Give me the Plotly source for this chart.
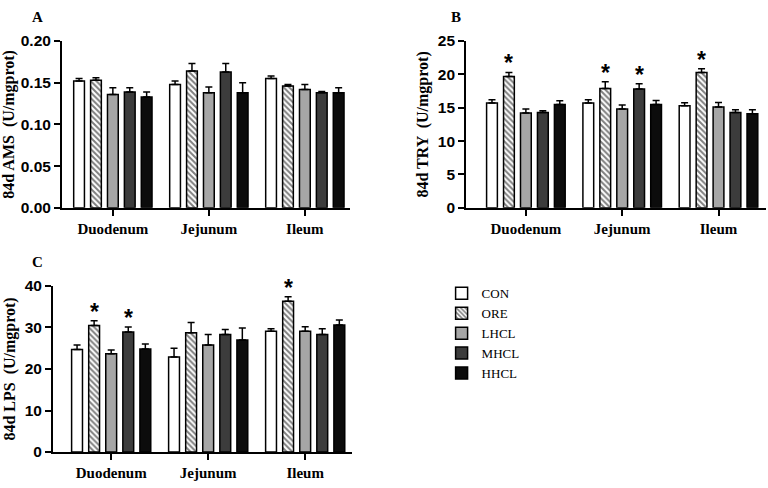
import plotly.graph_objects as go

categories = ["Duodenum", "Jejunum", "Ileum"]
groups = ["CON", "ORE", "LHCL", "MHCL", "HHCL"]

# AMS (U/mgprot), rows = groups, cols = categories
ams_mean = [[0.152, 0.148, 0.155],
            [0.153, 0.164, 0.146],
            [0.136, 0.138, 0.142],
            [0.139, 0.163, 0.138],
            [0.133, 0.138, 0.138]]
ams_err = [[0.003, 0.004, 0.003],
           [0.003, 0.009, 0.002],
           [0.008, 0.007, 0.006],
           [0.005, 0.010, 0.0015],
           [0.006, 0.012, 0.006]]
ams_sig = [[0, 0, 0], [0, 0, 0], [0, 0, 0], [0, 0, 0], [0, 0, 0]]

# TRY
try_mean = [[15.7, 15.7, 15.3],
            [19.7, 17.9, 20.3],
            [14.2, 14.8, 15.1],
            [14.3, 17.8, 14.3],
            [15.5, 15.5, 14.1]]
try_err = [[0.5, 0.5, 0.45],
           [0.6, 1.0, 0.55],
           [0.6, 0.6, 0.7],
           [0.25, 0.8, 0.4],
           [0.55, 0.6, 0.6]]
try_sig = [[0, 0, 0], [1, 1, 1], [0, 0, 0], [0, 1, 0], [0, 0, 0]]

# LPS
lps_mean = [[24.7, 22.9, 29.1],
            [30.5, 28.7, 36.3],
            [23.7, 25.8, 29.1],
            [28.9, 28.3, 28.3],
            [24.8, 27.0, 30.6]]
lps_err = [[1.1, 2.1, 0.6],
           [1.1, 2.5, 1.1],
           [0.9, 2.5, 1.1],
           [1.2, 1.2, 1.4],
           [1.2, 2.9, 1.2]]
lps_sig = [[0, 0, 0], [1, 0, 1], [0, 0, 0], [1, 0, 0], [0, 0, 0]]

fills = ["white", "white", "#a6a6a6", "#3c3c3c", "#0c0c0c"]
patterns = ["", "\\", "", "", ""]

SLOT = 0.176
BAR_W = 0.112

panels = [
    dict(mean=ams_mean, err=ams_err, sig=ams_sig, title="84d AMS  (U/mgprot)", letter="A",
         xd=[0.0807, 0.4557], yd=[0.578, 0.932], xr=[-0.53, 2.47], yr=[0, 0.2], dt=0.05, fmt=".2f",
         lx=0.049, ly=0.982),
    dict(mean=try_mean, err=try_err, sig=try_sig, title="84d TRY  (U/mgprot)", letter="B",
         xd=[0.607, 0.997], yd=[0.578, 0.932], xr=[-0.62, 2.49], yr=[0, 25], dt=5, fmt="d",
         lx=0.594, ly=0.982),
    dict(mean=lps_mean, err=lps_err, sig=lps_sig, title="84d LPS  (U/mgprot)", letter="C",
         xd=[0.069, 0.458], yd=[0.0594, 0.412], xr=[-0.6, 2.48], yr=[0, 40], dt=10, fmt="d",
         lx=0.049, ly=0.462),
]

fig = go.Figure()
annotations = []
layout = {}
for p_i, p in enumerate(panels):
    ax = "" if p_i == 0 else str(p_i + 1)
    xa, ya = "x" + ax, "y" + ax
    for g_i, g in enumerate(groups):
        xs = [c + (g_i - 2) * SLOT for c in range(len(categories))]
        fig.add_trace(go.Bar(
            x=xs, y=p["mean"][g_i], width=BAR_W, name=g,
            legendgroup=g, showlegend=(p_i == 0),
            marker=dict(color=fills[g_i], line=dict(color="black", width=1.5),
                        pattern=dict(shape=patterns[g_i], fgcolor="black", bgcolor="white",
                                     size=4, solidity=0.5)),
            error_y=dict(type="data", symmetric=False, array=p["err"][g_i],
                         arrayminus=[0] * len(categories), color="black",
                         thickness=1.5, width=3.5),
            xaxis=xa, yaxis=ya,
        ))
        for c_i in range(len(categories)):
            if p["sig"][g_i][c_i]:
                annotations.append(dict(
                    x=xs[c_i], y=p["mean"][g_i][c_i] + p["err"][g_i][c_i],
                    xref=xa, yref=ya, text="*", showarrow=False,
                    yanchor="bottom", yshift=-6,
                    font=dict(family="Liberation Sans", size=23, color="black", weight="bold"),
                ))
    annotations.append(dict(x=p["lx"], y=p["ly"], xref="paper", yref="paper",
                            text=p["letter"], showarrow=False, xanchor="center", yanchor="middle",
                            font=dict(family="Liberation Serif", size=15, color="black",
                                      weight="bold")))
    layout["xaxis" + ax] = dict(
        domain=p["xd"], anchor=ya, range=p["xr"], tickmode="array",
        tickvals=list(range(len(categories))), ticktext=categories,
        showline=True, linecolor="black", linewidth=2, ticks="outside", ticklen=6,
        tickwidth=2, tickcolor="black", showgrid=False, zeroline=False,
        tickfont=dict(family="Liberation Serif", size=15, color="black", weight="bold"),
    )
    layout["yaxis" + ax] = dict(
        domain=p["yd"], anchor=xa, range=p["yr"], dtick=p["dt"], tick0=0,
        tickformat=p["fmt"], showline=True, linecolor="black", linewidth=2,
        ticks="outside", ticklen=6, tickwidth=2, tickcolor="black",
        showgrid=False, zeroline=False,
        tickfont=dict(family="Liberation Sans", size=15.5, color="black", weight="bold"),
        title=dict(text=p["title"], standoff=5,
                   font=dict(family="Liberation Serif", size=16, color="black", weight="bold")),
    )

fig.update_layout(
    width=768, height=488, margin=dict(l=0, r=0, t=0, b=0),
    paper_bgcolor="white", plot_bgcolor="white",
    barmode="overlay", annotations=annotations,
    legend=dict(x=0.575, y=0.428, xanchor="left", yanchor="top",
                font=dict(family="Liberation Serif", size=13, color="black"),
                bgcolor="rgba(0,0,0,0)", tracegroupgap=0, itemwidth=30),
    **layout,
)

fig.write_html("out.html")
